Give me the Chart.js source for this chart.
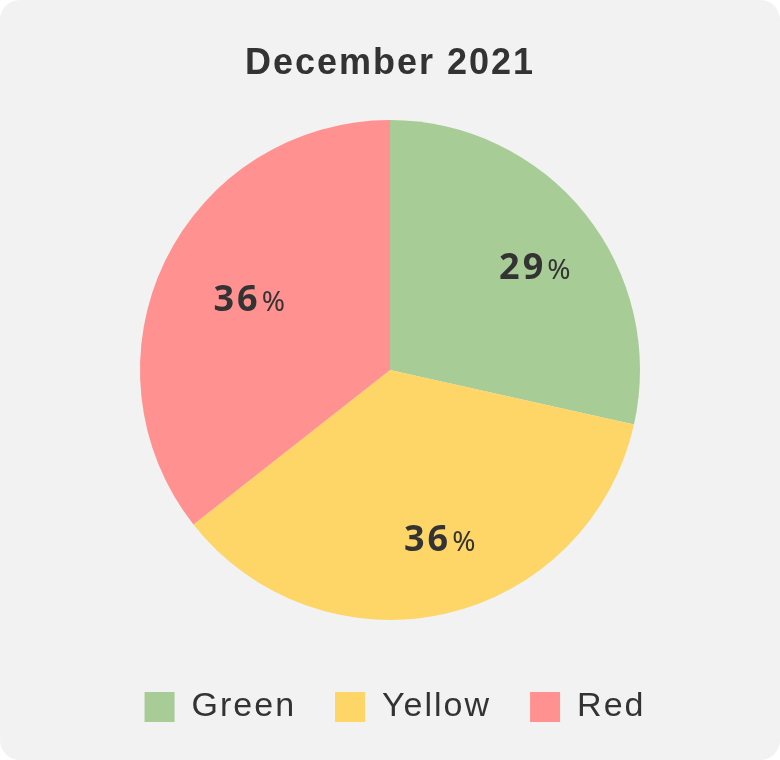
<!DOCTYPE html>
<html>
<head>
<meta charset="utf-8">
<script src="https://cdn.jsdelivr.net/npm/chart.js@4.4.1/dist/chart.umd.min.js"></script>
<style>
  html, body { margin: 0; padding: 0; background: #ffffff; }
  #wrap { width: 780px; height: 760px; background: #f2f2f2; border-radius: 20px; position: relative; overflow: hidden; }
  canvas { display: block; }
</style>
</head>
<body>
<div id="wrap"><canvas id="c" width="780" height="760"></canvas></div>
<script>
const chartTitle = 'December 2021';
const categories = ['Green', 'Yellow', 'Red'];
const values = [28.5, 35.9, 35.6];
const colors = ['#a8cc96', '#fdd667', '#ff9191'];

const TEXT = '#333333';

const spacingPlugin = {
  id: 'spacing',
  beforeLayout(chart) { chart.ctx.letterSpacing = '2px'; },
  afterLayout(chart) {
    // legend text sits a little closer to its swatch in the reference; nudge the block
    if (chart.legend) { chart.legend.left += 5; chart.legend.right += 5; }
  },
  beforeDraw(chart) { chart.ctx.letterSpacing = '2px'; }
};

const labelPlugin = {
  id: 'sliceLabels',
  afterDatasetsDraw(chart) {
    const ctx = chart.ctx;
    const meta = chart.getDatasetMeta(0);
    const data = chart.data.datasets[0].data;
    ctx.save();
    ctx.fillStyle = TEXT;
    ctx.textBaseline = 'alphabetic';
    meta.data.forEach((arc, i) => {
      const p = arc.getProps(['x', 'y', 'startAngle', 'endAngle', 'outerRadius'], true);
      const mid = (p.startAngle + p.endAngle) / 2;
      const r = p.outerRadius * 0.68;
      const px = p.x + Math.cos(mid) * r;
      const py = p.y + Math.sin(mid) * r;
      const num = String(Math.round(data[i]));
      ctx.letterSpacing = '3px';
      ctx.font = 'bold 36px "Noto Sans"';
      const w = ctx.measureText(num).width;
      const base = py + 15;
      ctx.textAlign = 'left';
      ctx.fillText(num, px - w / 2, base);
      ctx.letterSpacing = '0px';
      ctx.font = '28px "Noto Sans"';
      ctx.fillText('%', px + w / 2 + 1, base);
    });
    ctx.restore();
  }
};

new Chart(document.getElementById('c'), {
  type: 'pie',
  data: {
    labels: categories,
    datasets: [{
      data: values,
      backgroundColor: colors,
      borderWidth: 0,
      radius: 250
    }]
  },
  options: {
    responsive: false,
    animation: false,
    events: [],
    layout: { padding: { top: 0, bottom: 26, left: 0, right: 0 } },
    plugins: {
      tooltip: { enabled: false },
      title: {
        display: true,
        text: chartTitle,
        color: TEXT,
        font: { family: '"Liberation Sans", Arial, sans-serif', size: 36, weight: 'bold', lineHeight: 1.2 },
        padding: { top: 42.8, bottom: 3 }
      },
      legend: {
        position: 'bottom',
        labels: {
          color: TEXT,
          boxWidth: 30,
          boxHeight: 30,
          padding: 39,
          font: { family: '"Liberation Sans", Arial, sans-serif', size: 34 }
        }
      }
    }
  },
  plugins: [spacingPlugin, labelPlugin]
});
</script>
</body>
</html>
